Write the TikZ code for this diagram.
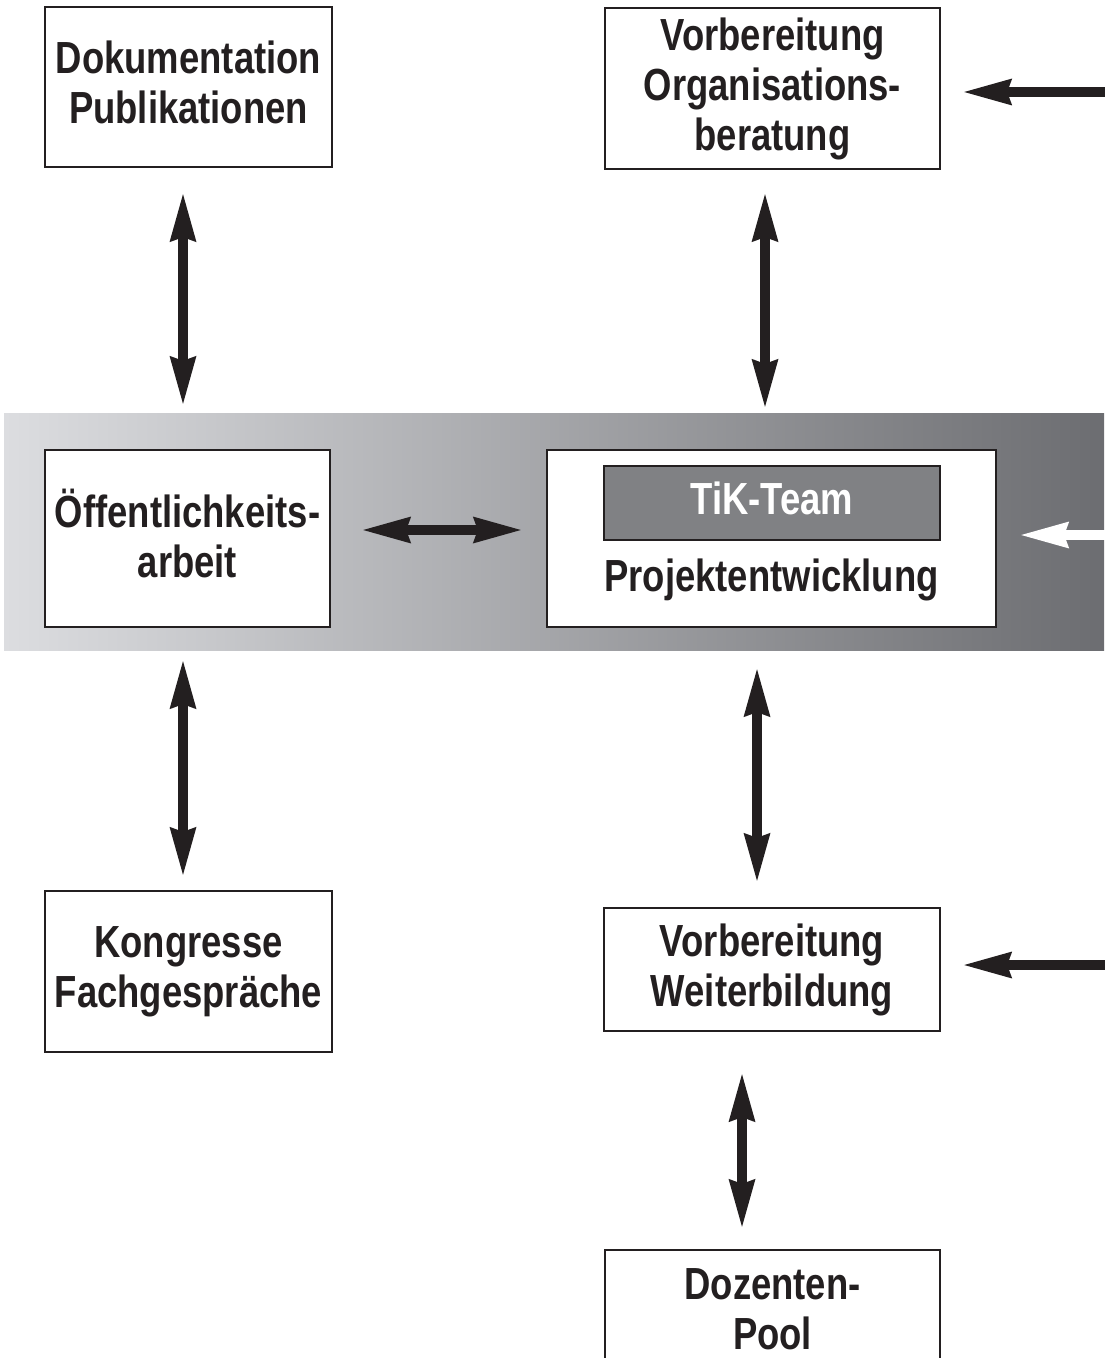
\documentclass[tikz,border=0pt]{standalone}
\usepackage{fontspec}
\setmainfont{Liberation Sans}[FakeStretch=0.81]
\usepackage{xcolor}
\usetikzlibrary{arrows.meta}

\definecolor{ink}{HTML}{231F20}
\definecolor{bandlight}{HTML}{DCDDE0}
\definecolor{banddark}{HTML}{6C6D71}
\definecolor{teamgray}{HTML}{808184}

\begin{document}
\begin{tikzpicture}[
    x=0.5pt, y=-0.5pt,
    box/.style={rectangle, draw=ink, line width=1.2pt, fill=white, text=ink, align=center, inner sep=0pt, font=\bfseries\fontsize{22.5}{25}\selectfont, execute at end node={\vphantom{g}}},
    dblarrow/.style={{Stealth[length=24pt, width=13.5pt, inset=2.5pt, line width=0pt]}-{Stealth[length=24pt, width=13.5pt, inset=2.5pt, line width=0pt]}, line width=5pt, draw=ink},
    inarrow/.style={-{Stealth[length=24pt, width=13.5pt, inset=2.5pt, line width=0pt]}, line width=5pt, draw=ink}
]
    \useasboundingbox (0,0) rectangle (1104,1358);

    % grey band behind the middle row
    \shade[left color=bandlight, right color=banddark] (4,413) rectangle (1104,650);

    \node[box, minimum width=143.5pt, minimum height=80pt] (dok) at (188.5,87) {Dokumentation\\Publikationen};
    \node[box, minimum width=167.5pt, minimum height=80.5pt] (orga) at (772.5,88.5) {Vorbereitung\\Organisations-\\beratung};
    \node[box, minimum width=142.5pt, minimum height=88.5pt] (oeff) at (187.5,538.5) {Öffentlichkeits-\\arbeit};
    \node[box, minimum width=224.5pt, minimum height=88.5pt] (proj) at (771.5,538.5) {};
    \node[box, fill=teamgray, text=white, minimum width=168pt, minimum height=37pt] (team) at (772,503) {TiK-Team};
    \node[box, draw=none, fill=none] (projtext) at (771.5,580) {Projektentwicklung};
    \node[box, minimum width=143.5pt, minimum height=80.5pt] (kong) at (188.5,971.5) {Kongresse\\Fachgespräche};
    \node[box, minimum width=168pt, minimum height=61.5pt] (weiter) at (772,969.5) {Vorbereitung\\Weiterbildung};
    \node[box, minimum width=167.5pt, minimum height=64pt] (pool) at (772.5,1314) {Dozenten-\\Pool};

    % free ends at the right edge
    \coordinate (inorga) at (1110,92);
    \coordinate (inproj) at (1110,535);
    \coordinate (inweiter) at (1110,965);

    \draw[dblarrow, shorten <=13pt, shorten >=22.5pt] ([xshift=-2.75pt]dok.south) -- ([xshift=-2.25pt]oeff.north);
    \draw[dblarrow, shorten <=12pt, shorten >=21pt] ([xshift=-3.75pt]orga.south) -- ([xshift=-3.25pt]proj.north);
    \draw[dblarrow, shorten <=16pt, shorten >=12.5pt] ([yshift=4.25pt]oeff.east) -- ([yshift=4.25pt]proj.west);
    \draw[dblarrow, shorten <=16.5pt, shorten >=7.5pt] ([xshift=-2.25pt]oeff.south) -- ([xshift=-2.75pt]kong.north);
    \draw[dblarrow, shorten <=20.5pt, shorten >=13pt] ([xshift=-7.25pt]proj.south) -- ([xshift=-7.5pt]weiter.north);
    \draw[dblarrow, shorten <=21pt, shorten >=11pt] ([xshift=-15pt]weiter.south) -- ([xshift=-15.25pt]pool.north);

    \draw[inarrow, shorten >=11.5pt] (inorga) -- ([yshift=-1.75pt]orga.east);
    \draw[inarrow, draw=white, shorten >=12pt] (inproj) -- ([yshift=1.75pt]proj.east);
    \draw[inarrow, shorten >=11.5pt] (inweiter) -- ([yshift=2.25pt]weiter.east);
\end{tikzpicture}
\end{document}
